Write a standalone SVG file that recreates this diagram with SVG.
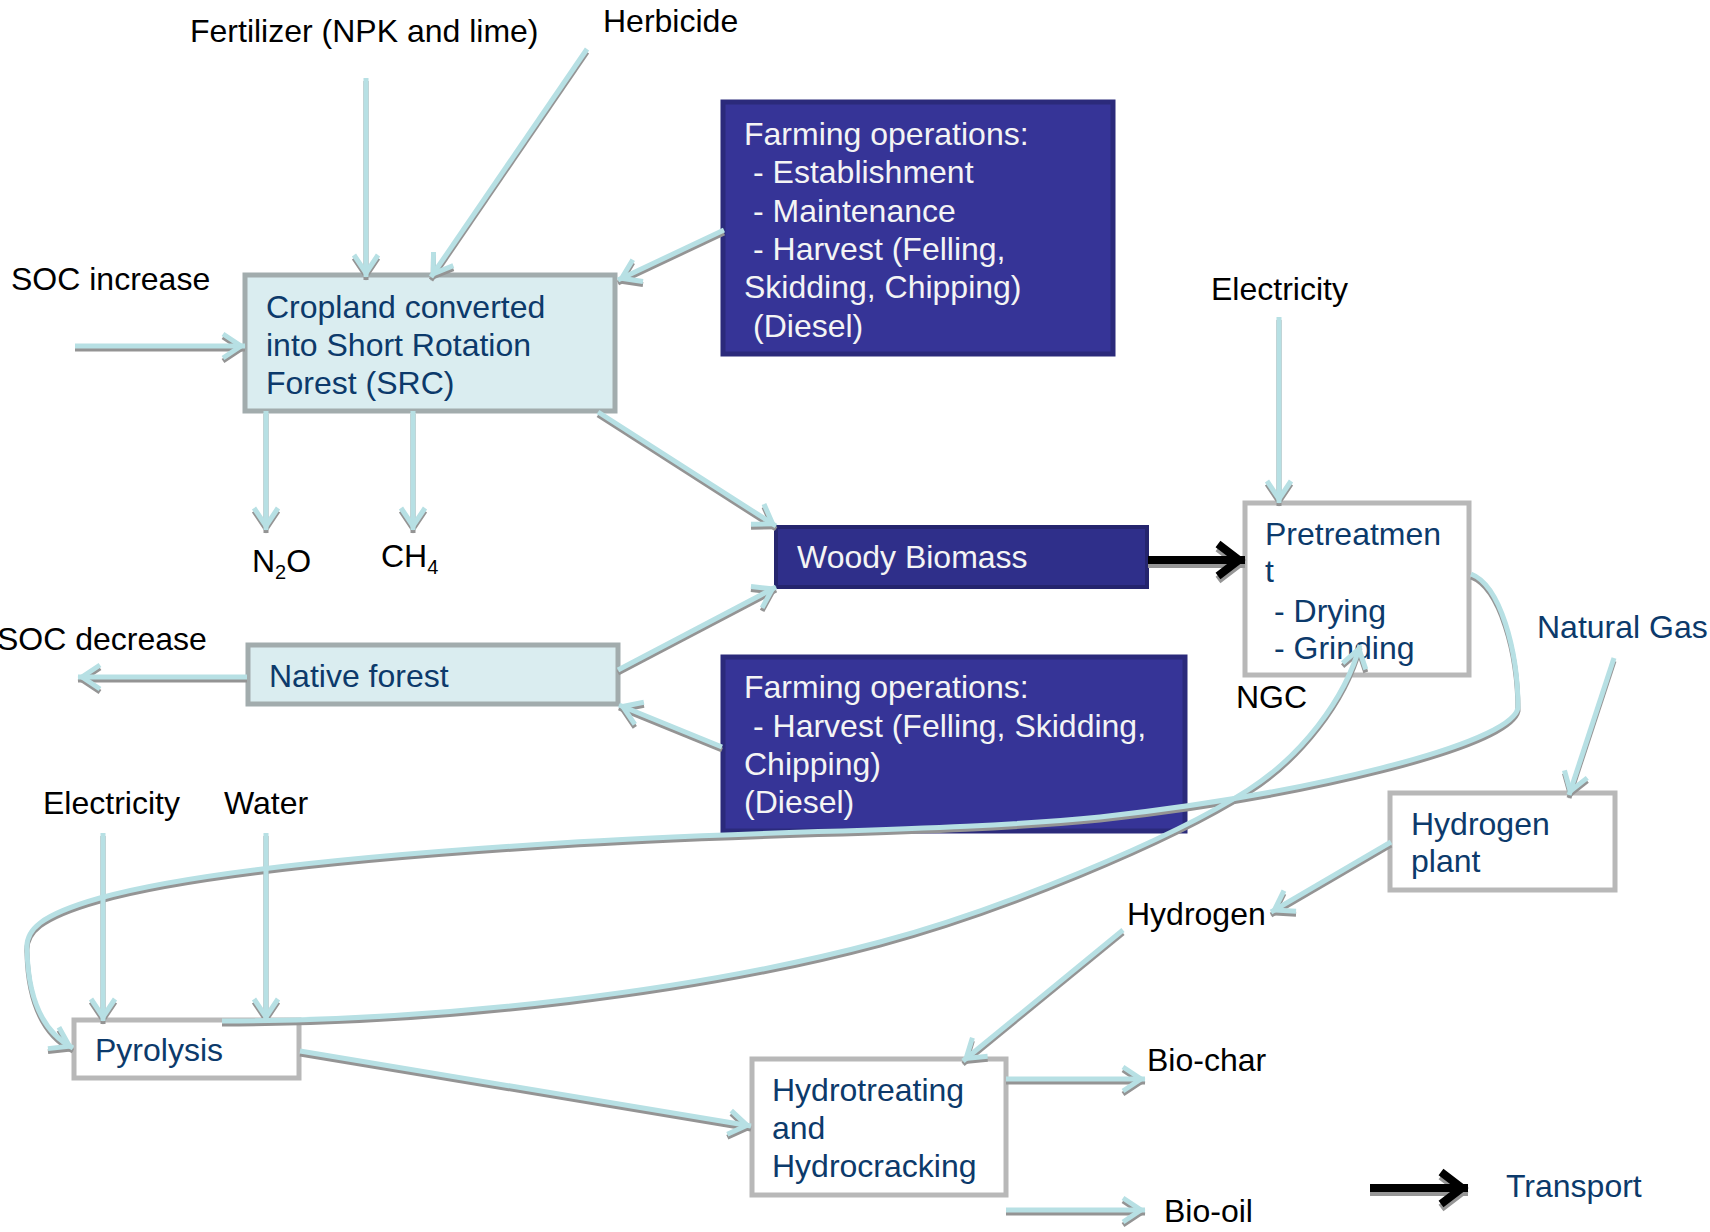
<svg xmlns="http://www.w3.org/2000/svg" width="1710" height="1232" viewBox="0 0 1710 1232">
<style>
text{font-family:"Liberation Sans",Arial,sans-serif;font-size:32px}
.lbl{fill:#000}
.nt{fill:#0c3a6b}
.wt{fill:#f4f4f4}
.light{fill:#daedf0;stroke:#a2acad;stroke-width:5}
.white{fill:#ffffff;stroke:#b8b8b8;stroke-width:5}
.dark{fill:#363497;stroke:#2b2a7b;stroke-width:5}
.wood{fill:#2f2f8a;stroke:#25256e;stroke-width:4}
.ln{fill:none;stroke:#b7e0e4;stroke-width:5;marker-end:url(#ah)}
.sh{fill:none;stroke:#949494;stroke-width:5;marker-end:url(#ahs)}
.tr{fill:none;stroke:#000;stroke-width:8;marker-end:url(#at)}
.trs{fill:none;stroke:#969696;stroke-width:8;marker-end:url(#ats)}
</style>
<defs>
<marker id="ah" markerUnits="userSpaceOnUse" orient="auto" overflow="visible" markerWidth="1" markerHeight="1"><path d="M-22,-12 L-4,0 L-22,12" fill="none" stroke="#b7e0e4" stroke-width="5"/></marker>
<marker id="ahs" markerUnits="userSpaceOnUse" orient="auto" overflow="visible" markerWidth="1" markerHeight="1"><path d="M-22,-12 L-4,0 L-22,12" fill="none" stroke="#949494" stroke-width="5"/></marker>
<marker id="at" markerUnits="userSpaceOnUse" orient="auto" overflow="visible" markerWidth="1" markerHeight="1"><path d="M-27,-16 L-6,0 L-27,16" fill="none" stroke="#000" stroke-width="8"/></marker>
<marker id="ats" markerUnits="userSpaceOnUse" orient="auto" overflow="visible" markerWidth="1" markerHeight="1"><path d="M-27,-16 L-6,0 L-27,16" fill="none" stroke="#969696" stroke-width="8"/></marker>
</defs>
<rect width="1710" height="1232" fill="#fff"/>

<g id="labels">
<text class="lbl" x="190" y="42">Fertilizer (NPK and lime)</text>
<text class="lbl" x="603" y="32">Herbicide</text>
<text class="lbl" x="11" y="290">SOC increase</text>
<text class="lbl" x="-3" y="650">SOC decrease</text>
<text class="lbl" x="252" y="572">N<tspan font-size="20" dy="7">2</tspan><tspan dy="-7">O</tspan></text>
<text class="lbl" x="381" y="567">CH<tspan font-size="20" dy="7">4</tspan></text>
<text class="lbl" x="1211" y="300">Electricity</text>
<text class="lbl" x="1236" y="708">NGC</text>
<text class="nt" x="1537" y="638">Natural Gas</text>
<text class="lbl" x="1127" y="925">Hydrogen</text>
<text class="lbl" x="43" y="814">Electricity</text>
<text class="lbl" x="224" y="814">Water</text>
<text class="lbl" x="1147" y="1071">Bio-char</text>
<text class="lbl" x="1164" y="1222">Bio-oil</text>
<text class="nt" x="1506" y="1197">Transport</text>
</g>

<g id="node-cropland">
<rect class="light" x="245" y="275" width="370" height="136"/>
<text class="nt" x="266" y="318">Cropland converted</text>
<text class="nt" x="266" y="356">into Short Rotation</text>
<text class="nt" x="266" y="394">Forest (SRC)</text>
</g>
<g id="node-ops1">
<rect class="dark" x="723" y="102" width="390" height="252"/>
<text class="wt" x="744" y="145">Farming operations:</text>
<text class="wt" x="753" y="183">- Establishment</text>
<text class="wt" x="753" y="222">- Maintenance</text>
<text class="wt" x="753" y="260">- Harvest (Felling,</text>
<text class="wt" x="744" y="298">Skidding, Chipping)</text>
<text class="wt" x="753" y="337">(Diesel)</text>
</g>
<g id="node-woody">
<rect class="wood" x="776" y="527" width="371" height="60"/>
<text class="wt" x="797" y="568">Woody Biomass</text>
</g>
<g id="node-native">
<rect class="light" x="248" y="645" width="370" height="59"/>
<text class="nt" x="269" y="687">Native forest</text>
</g>
<g id="node-ops2">
<rect class="dark" x="723" y="657" width="462" height="174"/>
<text class="wt" x="744" y="698">Farming operations:</text>
<text class="wt" x="753" y="737">- Harvest (Felling, Skidding,</text>
<text class="wt" x="744" y="775">Chipping)</text>
<text class="wt" x="744" y="813">(Diesel)</text>
</g>
<g id="node-pretreatment">
<rect class="white" x="1245" y="503" width="224" height="172"/>
<text class="nt" x="1265" y="545">Pretreatmen</text>
<text class="nt" x="1265" y="582">t</text>
<text class="nt" x="1274" y="622">- Drying</text>
<text class="nt" x="1274" y="659">- Grinding</text>
</g>
<g id="node-hydrogen-plant">
<rect class="white" x="1390" y="793" width="225" height="97"/>
<text class="nt" x="1411" y="835">Hydrogen</text>
<text class="nt" x="1411" y="872">plant</text>
</g>
<g id="node-pyrolysis">
<rect class="white" x="74" y="1020" width="225" height="58"/>
<text class="nt" x="95" y="1061">Pyrolysis</text>
</g>
<g id="node-hydrotreating">
<rect class="white" x="752" y="1059" width="254" height="136"/>
<text class="nt" x="772" y="1101">Hydrotreating</text>
<text class="nt" x="772" y="1139">and</text>
<text class="nt" x="772" y="1177">Hydrocracking</text>
</g>

<g id="connectors">
<g id="connector-shadows" transform="translate(0,3)">
<path class="sh" d="M75,346 L245,346"/>
<path class="sh" d="M366,78 L366,277"/>
<path class="sh" d="M587,49 L431,277"/>
<path class="sh" d="M724,230 L618,280"/>
<path class="sh" d="M266,411 L266,530"/>
<path class="sh" d="M413,411 L413,530"/>
<path class="sh" d="M598,412 L776,526"/>
<path class="sh" d="M618,670 L776,587"/>
<path class="sh" d="M722,747 L619,705"/>
<path class="sh" d="M247,677 L78,677"/>
<path class="sh" d="M1279,317 L1279,503"/>
<path class="sh" d="M1614,658 L1569,795"/>
<path class="sh" d="M1391,842 L1271,912"/>
<path class="sh" d="M1123,930 L963,1061"/>
<path class="sh" d="M103,833 L103,1021"/>
<path class="sh" d="M266,833 L266,1021"/>
<path class="sh" d="M300,1051 L751,1126"/>
<path class="sh" d="M1006,1079 L1145,1079"/>
<path class="sh" d="M1006,1210 L1145,1210"/>
<path class="sh" d="M1471,574 C1500,585 1518,650 1518,708 C1510,745 1300,795 1100,817 C950,832 750,830 560,843 C400,853 200,870 100,898 C40,915 25,930 27,950 C28,990 38,1030 73,1048"/>
<path class="sh" d="M222,1021 C450,1021 700,990 880,942 C1000,910 1170,840 1248,790 C1300,757 1345,700 1360,645"/>
</g>
<g id="connector-lines">
<path class="ln" d="M75,346 L245,346"/>
<path class="ln" d="M366,78 L366,277"/>
<path class="ln" d="M587,49 L431,277"/>
<path class="ln" d="M724,230 L618,280"/>
<path class="ln" d="M266,411 L266,530"/>
<path class="ln" d="M413,411 L413,530"/>
<path class="ln" d="M598,412 L776,526"/>
<path class="ln" d="M618,670 L776,587"/>
<path class="ln" d="M722,747 L619,705"/>
<path class="ln" d="M247,677 L78,677"/>
<path class="ln" d="M1279,317 L1279,503"/>
<path class="ln" d="M1614,658 L1569,795"/>
<path class="ln" d="M1391,842 L1271,912"/>
<path class="ln" d="M1123,930 L963,1061"/>
<path class="ln" d="M103,833 L103,1021"/>
<path class="ln" d="M266,833 L266,1021"/>
<path class="ln" d="M300,1051 L751,1126"/>
<path class="ln" d="M1006,1079 L1145,1079"/>
<path class="ln" d="M1006,1210 L1145,1210"/>
<path class="ln" d="M1471,574 C1500,585 1518,650 1518,708 C1510,745 1300,795 1100,817 C950,832 750,830 560,843 C400,853 200,870 100,898 C40,915 25,930 27,950 C28,990 38,1030 73,1048"/>
<path class="ln" d="M222,1021 C450,1021 700,990 880,942 C1000,910 1170,840 1248,790 C1300,757 1345,700 1360,645"/>
</g>
<g id="transport-arrows">
<path class="trs" d="M1148,564 L1245,564"/>
<path class="tr" d="M1148,560 L1245,560"/>
<path class="trs" d="M1370,1192 L1468,1192"/>
<path class="tr" d="M1370,1188 L1468,1188"/>
</g>
</g>
</svg>
